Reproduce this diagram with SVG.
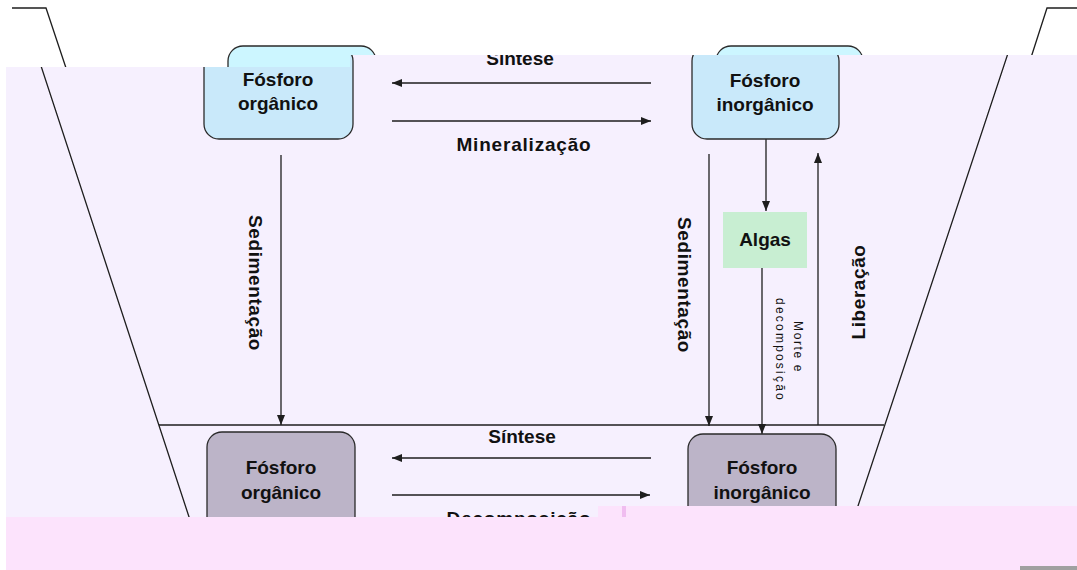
<svg xmlns="http://www.w3.org/2000/svg" width="1077" height="570" viewBox="0 0 1077 570">
<defs>
<style>
.ln{stroke:#1e1e1e;stroke-width:1.3;fill:none}
.arr{stroke:#1e1e1e;stroke-width:1.3;fill:none;marker-end:url(#ah)}
.t{font-family:"Liberation Sans",Arial,sans-serif;font-weight:bold;font-size:19px;fill:#111;text-anchor:middle}
.s{font-family:"Liberation Sans",Arial,sans-serif;font-size:12px;fill:#111;text-anchor:middle}
.blue{fill:#c9e9fa;stroke:#2a2a2a;stroke-width:1.3}
.blue2{fill:#ccf6ff;stroke:#2a2a2a;stroke-width:1.3}
.gray{fill:#bcb4c8;stroke:#2a2a2a;stroke-width:1.3}
</style>
<marker id="ah" markerUnits="userSpaceOnUse" markerWidth="10" markerHeight="8" refX="10" refY="4" orient="auto">
<path d="M0,0 L10,4 L0,8 z" fill="#1e1e1e"/>
</marker>
<clipPath id="frame">
<polygon points="6,67 350,67 350,55 1077,55 1077,570 6,570"/>
</clipPath>
</defs>
<rect x="0" y="0" width="1077" height="570" fill="#ffffff"/>
<g id="shifted-strip">
<polyline class="ln" points="12,8 46,8 70,80"/>
<polyline class="ln" points="1077,8 1047,8 1027,70"/>
<rect class="blue2" x="228" y="46" width="148" height="94" rx="15"/>
<rect class="blue2" x="716" y="46" width="147" height="94" rx="15"/>
</g>
<polygon points="6,67 350,67 350,55 1077,55 1077,570 6,570" fill="#f6f0fe"/>
<g clip-path="url(#frame)">
<g id="basin">
<polyline class="ln" points="-12,8 22,8 191,523"/>
<polyline class="ln" points="1077,8 1023,8 855,515"/>
<line class="ln" x1="159" y1="425" x2="884" y2="425"/>
</g>
<g id="connectors">
<line class="arr" x1="651" y1="83" x2="392" y2="83"/>
<line class="arr" x1="392" y1="121" x2="651" y2="121"/>
<line class="arr" x1="281" y1="155" x2="281" y2="425"/>
<line class="arr" x1="709" y1="154" x2="709" y2="426"/>
<line class="arr" x1="766" y1="139" x2="766" y2="211"/>
<line class="arr" x1="762" y1="268" x2="762" y2="434"/>
<line class="arr" x1="818" y1="425" x2="818" y2="153"/>
<line class="arr" x1="651" y1="458" x2="392" y2="458"/>
<line class="arr" x1="392" y1="495" x2="650" y2="495"/>
<text class="t" x="520" y="65">Síntese</text>
<text class="t" x="524" y="151" letter-spacing="0.8">Mineralização</text>
<text class="t" x="522" y="443">Síntese</text>
<text class="t" x="519" y="525" letter-spacing="0.8">Decomposição</text>
<text class="t" transform="translate(249,283) rotate(90)" letter-spacing="0.6">Sedimentação</text>
<text class="t" transform="translate(678,285) rotate(90)" letter-spacing="0.6">Sedimentação</text>
<text class="t" transform="translate(865,292) rotate(-90)" letter-spacing="0.6">Liberação</text>
<text class="s" transform="translate(794,347) rotate(90)" letter-spacing="1.6">Morte e</text>
<text class="s" transform="translate(776,350) rotate(90)" letter-spacing="2.2">decomposição</text>
</g>
<g id="node-org-top">
<rect class="blue" x="204" y="46" width="149" height="93" rx="15"/>
<text class="t" x="278" y="86">Fósforo</text>
<text class="t" x="278" y="110">orgânico</text>
</g>
<g id="node-inorg-top">
<rect class="blue" x="692" y="46" width="147" height="93" rx="15"/>
<text class="t" x="765" y="87">Fósforo</text>
<text class="t" x="765" y="111">inorgânico</text>
</g>
<g id="node-algas">
<rect x="723" y="212" width="84" height="56" fill="#c8eed2"/>
<text class="t" x="765" y="246">Algas</text>
</g>
<g id="node-org-bottom">
<rect class="gray" x="207" y="432" width="148" height="110" rx="15"/>
<text class="t" x="281" y="474">Fósforo</text>
<text class="t" x="281" y="499">orgânico</text>
</g>
<g id="node-inorg-bottom">
<rect class="gray" x="688" y="434" width="148" height="110" rx="15"/>
<text class="t" x="762" y="474">Fósforo</text>
<text class="t" x="762" y="499">inorgânico</text>
</g>
</g>
<g id="overlay">
<polygon points="6,517 598,517 598,506 1077,506 1077,570 6,570" fill="#fce3fc"/>
<rect x="622" y="506" width="4" height="11" fill="#f0bdf0"/>
<rect x="1020" y="566" width="57" height="4" fill="#a0a0a0"/>
</g>
</svg>
